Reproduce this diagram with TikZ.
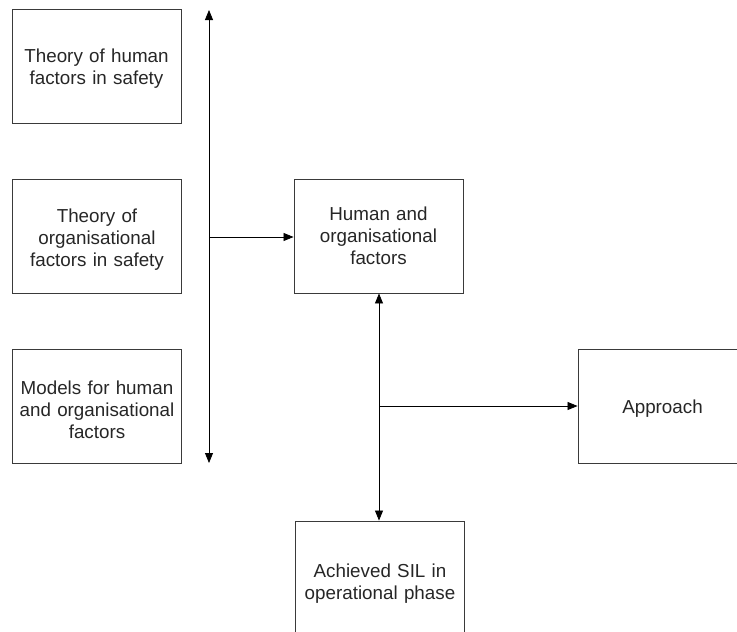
\documentclass[tikz,border=0pt]{standalone}
\usepackage{fontspec}
\setmainfont{Liberation Sans}
\usetikzlibrary{arrows.meta}
\definecolor{ink}{HTML}{262626}
\definecolor{edge}{HTML}{3A3A3A}
\tikzset{
  box/.style={draw=edge, line width=0.9pt, rectangle, minimum width=169pt, minimum height=114pt,
    inner sep=0pt},
  txt/.style={inner sep=0pt, text width=165pt, align=center, text=ink,
    font=\fontsize{18.8pt}{22pt}\selectfont, yshift=-3pt},
  tip/.tip={Triangle[length=10pt,width=8pt]},
  conn/.style={draw=black, line width=0.8pt, -tip},
  conn2/.style={draw=black, line width=0.8pt, tip-tip}
}
\begin{document}
\begin{tikzpicture}[x=1pt,y=-1pt]
\useasboundingbox (0,0) rectangle (737,632);
\clip (0,0) rectangle (737,632);
\node[box, label={[txt]center:{Theory of human\\factors in safety}}] (t1) at (96.5,66) {};
\node[box, label={[txt]center:{Theory of\\organisational\\factors in safety}}] (t2) at (97,236.5) {};
\node[box, label={[txt]center:{Models for human\\and organisational\\factors}}] (t3) at (97,406.5) {};
\node[box, label={[txt,yshift=3pt]center:{Human and\\organisational\\factors}}] (hof) at (378.5,236) {};
\node[box, label={[txt]center:{Approach}}] (app) at (662.5,406) {};
\node[box, label={[txt,yshift=-3pt]center:{Achieved SIL in\\operational phase}}] (ach) at (380,578) {};
\coordinate (sTop) at (209,10);
\coordinate (sBot) at (209,463);
\coordinate (j1) at (209,237);
\coordinate (j2) at (379,406);
\draw[conn2] (sTop) -- (sBot);
\draw[conn] (j1) -- (j1 -| hof.west);
\draw[conn2] (hof.south -| j2) -- (ach.north -| j2);
\draw[conn] (j2) -- (j2 -| app.west);
\end{tikzpicture}
\end{document}
